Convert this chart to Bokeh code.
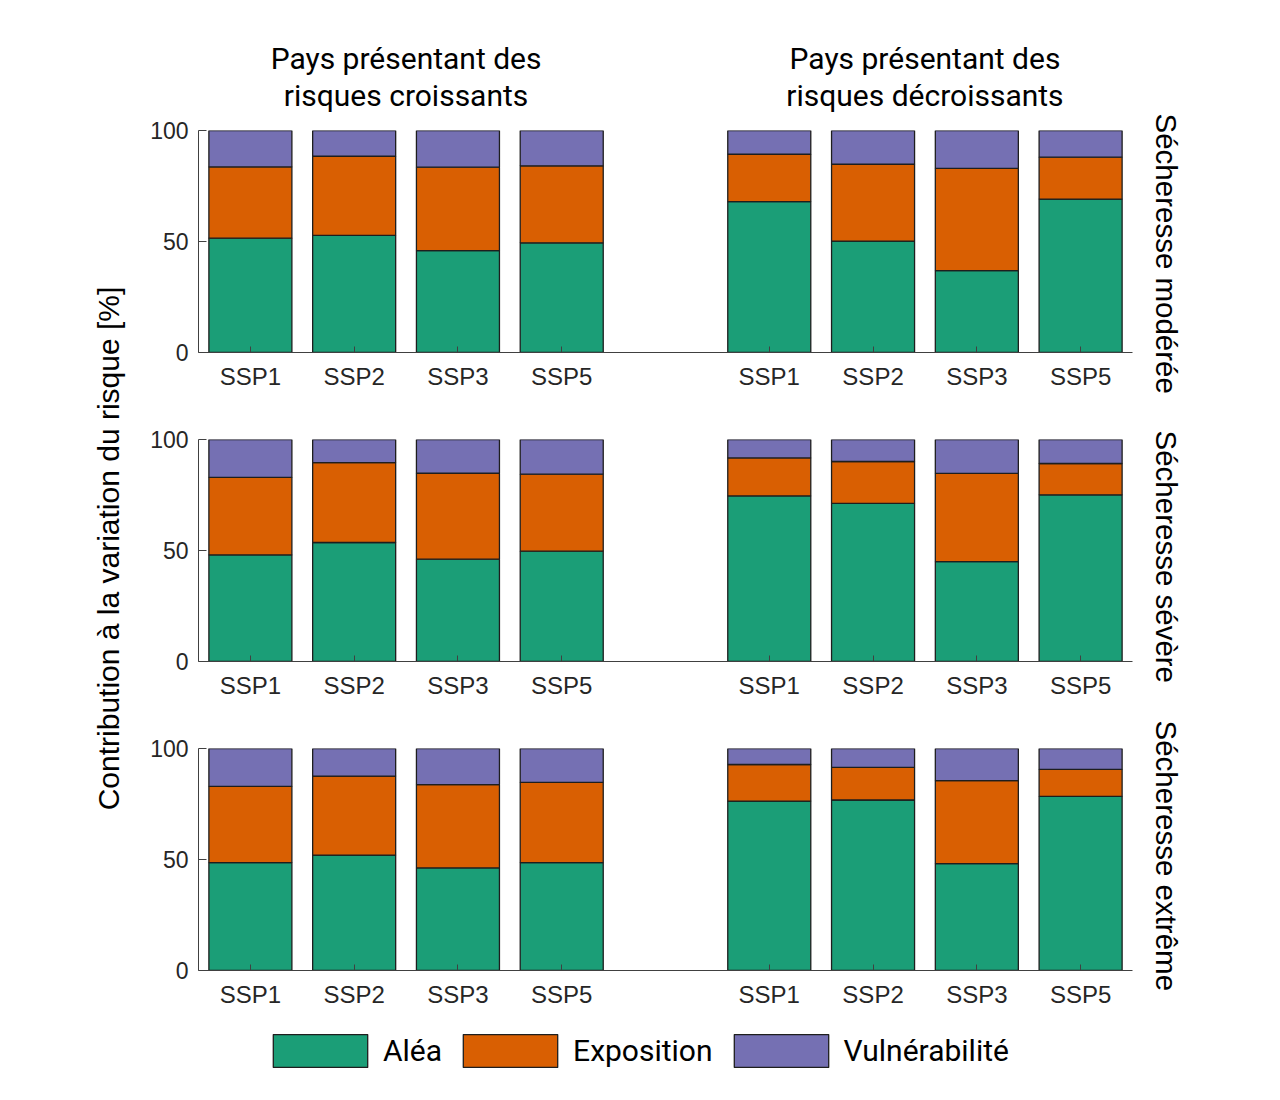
from bokeh.plotting import figure
from bokeh.layouts import column, row
from bokeh.models import FixedTicker, Legend, LegendItem, Title, Range1d
from bokeh.core.properties import value
from bokeh.embed import file_html
from bokeh.resources import INLINE

# Scenarios shown in each group of bars
scenarios = ["SSP1", "SSP2", "SSP3", "SSP5"]

# Column headers (two lines each)
group_titles = [
    ["Pays présentant des", "risques croissants"],
    ["Pays présentant des", "risques décroissants"],
]

# Row labels
drought_levels = ["Sécheresse modérée", "Sécheresse sévère", "Sécheresse extrême"]

y_label = "Contribution à la variation du risque [%]"

components = ["Aléa", "Exposition", "Vulnérabilité"]
colors = ["#1b9e77", "#d95f02", "#7570b3"]

# Contributions in % : first four = risques croissants, last four = risques décroissants
alea_moderee = [51.5, 52.8, 45.9, 49.4, 68.0, 50.2, 36.9, 69.1]
expo_moderee = [32.1, 35.6, 37.6, 34.7, 21.3, 34.6, 46.0, 18.9]
vuln_moderee = [16.4, 11.6, 16.5, 15.9, 10.7, 15.2, 17.1, 12.0]

alea_severe = [48.0, 53.6, 46.1, 49.7, 74.6, 71.2, 45.0, 75.1]
expo_severe = [34.9, 36.0, 38.7, 34.7, 17.1, 18.9, 39.7, 14.1]
vuln_severe = [17.1, 10.4, 15.2, 15.6, 8.3, 9.9, 15.3, 10.8]

alea_extreme = [48.6, 52.0, 46.2, 48.6, 76.3, 76.8, 48.1, 78.4]
expo_extreme = [34.3, 35.6, 37.5, 36.1, 16.5, 14.7, 37.4, 12.2]
vuln_extreme = [17.1, 12.4, 16.3, 15.3, 7.2, 8.5, 14.5, 9.4]

rows = [
    (alea_moderee, expo_moderee, vuln_moderee),
    (alea_severe, expo_severe, vuln_severe),
    (alea_extreme, expo_extreme, vuln_extreme),
]

# bar positions: two groups of four, separated by one empty slot
n = len(scenarios)
xpos = [g * (n + 1) + i + 1 for g in range(len(group_titles)) for i in range(n)]
tick_labels = {x: scenarios[i % n] for i, x in enumerate(xpos)}
x_start, x_end = 0.5, len(group_titles) * (n + 1) - 0.5

TICK_FONT = "Liberation Sans"
TITLE_FONT = "Roboto"
TEXT_COLOR = "#262626"
AXIS_COLOR = "#404040"
BAR_EDGE = "#1e1e1e"

FRAME_W, FRAME_H = 934, 222
LEFT, RIGHT = 60, 148
LABEL_COL_W = 138
HEADER_H = 112
ROW_TOPS = [18, 43, 43]             # space above each frame
ROW_LABEL_OFFSETS = [-17, -9, -28]  # where each row label starts, relative to the frame top


def bare(p):
    p.outline_line_color = None
    p.grid.visible = False
    p.background_fill_color = "white"
    p.border_fill_color = "white"
    return p


# ---- y label column ----
ylab = bare(figure(
    frame_width=60, frame_height=932,
    x_range=Range1d(0, 1), y_range=Range1d(0, 1),
    x_axis_type=None, y_axis_type=None,
    min_border_left=LABEL_COL_W - 60, min_border_right=0,
    min_border_top=82, min_border_bottom=0,
    output_backend="svg", toolbar_location=None,
))
ylab.text(x=[0.5], y=[0.5], text=[y_label], angle=1.5707963,
          text_align="center", text_baseline="middle",
          text_font=value(TICK_FONT), text_font_size="30px", text_color="black")

# ---- column headers ----
header = bare(figure(
    frame_width=FRAME_W, frame_height=HEADER_H,
    x_range=Range1d(x_start, x_end),
    # line index 0 and 1, first line on top
    y_range=Range1d((HEADER_H - 58) / 37, -58 / 37),
    x_axis_type=None, y_axis_type=None,
    min_border_left=LEFT, min_border_right=RIGHT,
    min_border_top=0, min_border_bottom=0,
    output_backend="svg", toolbar_location=None,
))
hx, hy, ht = [], [], []
for g, lines in enumerate(group_titles):
    for k, line in enumerate(lines):
        hx.append(g * (n + 1) + (n + 1) / 2)
        hy.append(k)
        ht.append(line)
header.text(x=hx, y=hy, text=ht, text_align="center", text_baseline="middle",
            text_font=value(TITLE_FONT), text_font_size="30px", text_color="black")

# ---- one stacked bar chart per drought level ----
figs = []
for r, (alea, expo, vuln) in enumerate(rows):
    p = bare(figure(
        frame_width=FRAME_W, frame_height=FRAME_H,
        x_range=Range1d(x_start, x_end), y_range=Range1d(0, 100),
        output_backend="svg", toolbar_location=None,
        min_border_left=LEFT, min_border_right=RIGHT,
        min_border_top=ROW_TOPS[r], min_border_bottom=44,
    ))

    bottoms = [0.0] * len(xpos)
    for comp, vals, col in zip(components, (alea, expo, vuln), colors):
        tops = [b + v for b, v in zip(bottoms, vals)]
        p.vbar(x=xpos, bottom=bottoms, top=tops, width=0.8,
               fill_color=col, line_color=BAR_EDGE, line_width=1.3)
        bottoms = tops

    xa = p.xaxis[0]
    xa.ticker = FixedTicker(ticks=xpos)
    xa.major_label_overrides = tick_labels
    xa.major_tick_in = 6
    xa.major_tick_out = 0
    xa.minor_tick_line_color = None
    xa.axis_line_color = AXIS_COLOR
    xa.major_tick_line_color = AXIS_COLOR
    xa.major_label_text_font = TICK_FONT
    xa.major_label_text_font_size = "24px"
    xa.major_label_text_color = TEXT_COLOR
    xa.major_label_standoff = 10

    ya = p.yaxis[0]
    ya.ticker = FixedTicker(ticks=[0, 50, 100])
    ya.major_tick_in = 8
    ya.major_tick_out = 0
    ya.minor_tick_line_color = None
    ya.axis_line_color = AXIS_COLOR
    ya.major_tick_line_color = AXIS_COLOR
    ya.major_label_text_font = TICK_FONT
    ya.major_label_text_font_size = "23px"
    ya.major_label_text_color = TEXT_COLOR
    ya.major_label_standoff = 10

    p.add_layout(Title(text=drought_levels[r], align="left",
                       offset=ROW_LABEL_OFFSETS[r],
                       text_font=TICK_FONT, text_font_size="29.5px",
                       text_font_style="normal", text_color="black",
                       standoff=34), "right")
    figs.append(p)

# ---- legend ----
footer = bare(figure(
    width=LABEL_COL_W + LEFT + FRAME_W + RIGHT, height=86,
    x_range=Range1d(0, 1), y_range=Range1d(0, 1),
    x_axis_type=None, y_axis_type=None,
    min_border=0, output_backend="svg", toolbar_location=None,
))
swatches = []
for col in colors:
    sw = footer.vbar(x=[0], bottom=[0], top=[0], width=0.8, fill_color=col,
                     line_color=BAR_EDGE, line_width=1.3)
    sw.visible = False
    swatches.append(sw)
# area swatches are inset by 10% of the glyph box on every side
legend = Legend(
    items=[LegendItem(label=c, renderers=[rr]) for c, rr in zip(components, swatches)],
    orientation="horizontal", location=(261, 29),
    glyph_width=118, glyph_height=41, label_standoff=4, spacing=9,
    label_text_font=TITLE_FONT, label_text_font_size="30px",
    label_text_color="black", label_text_baseline="middle",
    border_line_color=None, background_fill_alpha=0,
    padding=0, margin=0,
)
footer.add_layout(legend)

layout = column(row(ylab, column(header, *figs, spacing=0), spacing=0), footer, spacing=0)
open("out.html", "w").write(file_html(layout, INLINE))
